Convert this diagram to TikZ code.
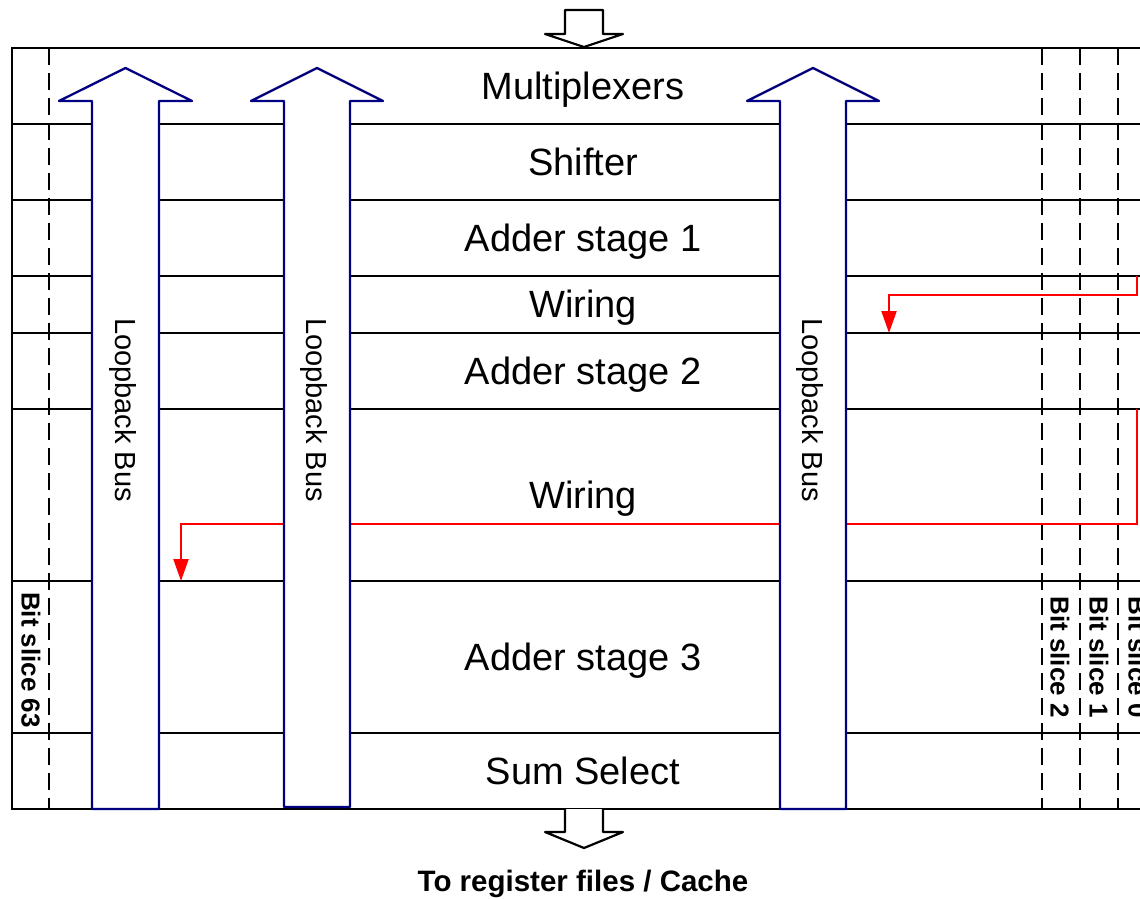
\documentclass[tikz,border=0pt]{standalone}
\usepackage{fontspec}
\setmainfont{Liberation Sans}
\usetikzlibrary{arrows.meta}
\definecolor{busblue}{RGB}{0,0,128}
\definecolor{wirered}{RGB}{255,0,0}

\begin{document}
\begin{tikzpicture}[x=1pt,y=-1pt,
  frame/.style={line width=2.3pt,black},
  slice/.style={line width=2.2pt,black,dash pattern=on 17pt off 8pt},
  bus/.style={line width=2.3pt,draw=busblue,fill=white,line join=round},
  hollow/.style={line width=2.2pt,draw=black,fill=white,line join=round},
  wire/.style={line width=2.2pt,draw=wirered,-{Triangle[length=22pt,width=15pt]},fill=none},
  rowlabel/.style={font=\fontsize{38}{40}\selectfont,inner sep=0pt,text height=27pt,text depth=0pt},
  buslabel/.style={font=\fontsize{29}{30}\selectfont,rotate=-90,inner sep=0pt},
  slicelabel/.style={font=\bfseries\fontsize{26}{28}\selectfont,rotate=-90,inner sep=0pt,text height=18.6pt,text depth=0pt},
  outlabel/.style={font=\bfseries\fontsize{29.5}{31}\selectfont,inner sep=0pt,text height=21pt,text depth=0pt},
]
\useasboundingbox (0,0) rectangle (1140,899);
\clip (0,0) rectangle (1140,899);

% datapath rows
\draw[frame] (1150,48) -- (12,48) -- (12,809) -- (1150,809);
\foreach \y in {124,200,276,333,409,581,733}
  \draw[frame] (12,\y) -- (1150,\y);

% bit slice boundaries
\foreach \x in {49,1042,1080,1118}
  \draw[slice] (\x,48) -- (\x,809);

% carry wiring
\coordinate (w1a) at (1137,276);
\coordinate (w1b) at (889,333);
\coordinate (w2a) at (1137,409);
\coordinate (w2b) at (181,581);
\draw[wire] (w1a) -- (1137,295) -| (w1b);
\draw[wire] (w2a) -- (1137,524) -| (w2b);

% loopback buses
\foreach \l/\r/\b/\n in {92/159/809/busa, 284/350/807/busb, 780/846/809/busc}{
  \draw[bus] (\l,\b) -- (\l,101) -- (\l-33,101) -- ({(\l+\r)/2},68)
     -- (\r+33,101) -- (\r,101) -- (\r,\b) -- cycle;
  \node[buslabel] (\n) at ({(\l+\r)/2-3},410) {Loopback Bus};
}

% input / output arrows
\draw[hollow] (565,10) -- (565,34) -- (545,34) -- (584,47) -- (623,34)
   -- (603,34) -- (603,10) -- cycle;
\draw[hollow] (565,809) -- (565,832) -- (545,832) -- (584,848) -- (623,832)
   -- (603,832) -- (603,809);

% row labels
\node[rowlabel] (mux)  at (583,86)  {Multiplexers};
\node[rowlabel] (shf)  at (583,162) {Shifter};
\node[rowlabel] (add1) at (583,238) {Adder stage 1};
\node[rowlabel] (wir1) at (583,304) {Wiring};
\node[rowlabel] (add2) at (583,371) {Adder stage 2};
\node[rowlabel] (wir2) at (583,495) {Wiring};
\node[rowlabel] (add3) at (583,657) {Adder stage 3};
\node[rowlabel] (ssel) at (583,771) {Sum Select};

% bit slice labels
\node[slicelabel] (bs63) at (31,660)   {Bit slice 63};
\node[slicelabel] (bs2)  at (1060,657) {Bit slice 2};
\node[slicelabel] (bs1)  at (1099,657) {Bit slice 1};
\node[slicelabel] (bs0)  at (1138,657) {Bit slice 0};

\node[outlabel] (out) at (583,881) {To register files / Cache};
\end{tikzpicture}
\end{document}
